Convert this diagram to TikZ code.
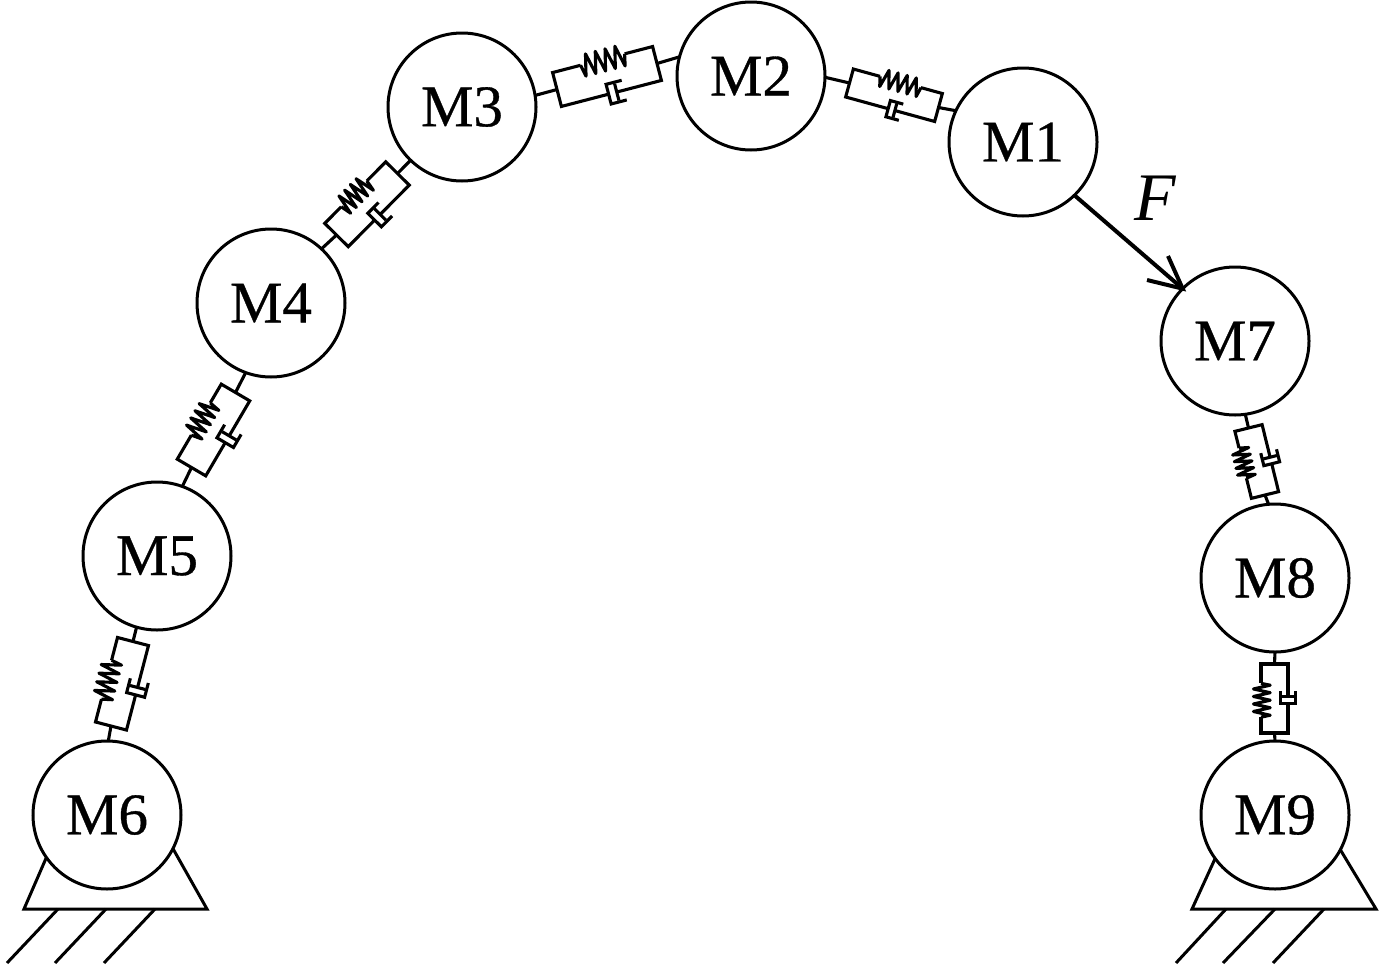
\documentclass[tikz,border=0pt]{standalone}
\usepackage{fontspec}
\setmainfont{Liberation Serif}
\newfontfamily\massfont[FakeBold=0.6]{Liberation Serif}
\tikzset{
  mass/.style={circle,draw=black,line width=3pt,minimum size=148pt,inner sep=0pt,outer sep=0pt,font=\massfont\fontsize{59}{61}\selectfont},
  lnk/.style={line width=3.1pt,line cap=butt,line join=miter},
  gnd/.style={line width=3pt,line join=miter},
  force/.style={line width=4pt},
}
% name, x1,y1 (lower end), x2,y2 (upper end), width, spring start, spring end, damper position
\newcommand{\kvunit}[9]{%
  \pgfmathsetmacro\kvL{veclen(#4-#2,#5-#3)}%
  \pgfmathsetmacro\kvux{(#4-#2)/\kvL}%
  \pgfmathsetmacro\kvuy{-(#5-#3)/\kvL}%
  \pgfmathsetmacro\kvvx{-\kvuy}%
  \pgfmathsetmacro\kvvy{\kvux}%
  \pgfmathsetmacro\kvW{#6/2}%
  \pgfmathsetmacro\kvS{#7*\kvL}%
  \pgfmathsetmacro\kvD{(#8-#7)*\kvL/9}%
  \pgfmathsetmacro\kvE{#8*\kvL}%
  \pgfmathsetmacro\kvC{#9*\kvL}%
  \pgfmathsetmacro\kvHi{\kvW*(1-0.06+0.62)}%
  \pgfmathsetmacro\kvLo{\kvW*(1-0.06-0.62)}%
  \pgfmathsetmacro\kvH{#6*0.29}%
  \pgfmathsetmacro\kvA{#6*0.46}%
  \pgfmathsetmacro\kvB{#6*0.24}%
  \pgfmathsetmacro\kvC{\kvC-\kvA/2}%
  \begin{scope}[shift={(#2,#3)},x={(\kvux pt,\kvuy pt)},y={(\kvvx pt,\kvvy pt)}]
    \coordinate (#1-a) at (0,0);
    \coordinate (#1-b) at (\kvL,0);
    \draw[lnk] (\kvS,\kvW) -- (0,\kvW) -- (0,-\kvW) -- (\kvC,-\kvW);
    \draw[lnk] (\kvC+\kvB,-\kvW) -- (\kvL,-\kvW) -- (\kvL,\kvW) -- (\kvE,\kvW);
    \draw[lnk,line join=round] (\kvS,\kvW)
      -- ++(0.5*\kvD,\kvLo-\kvW) -- ++(\kvD,\kvHi-\kvLo) -- ++(\kvD,\kvLo-\kvHi)
      -- ++(\kvD,\kvHi-\kvLo) -- ++(\kvD,\kvLo-\kvHi) -- ++(\kvD,\kvHi-\kvLo)
      -- ++(\kvD,\kvLo-\kvHi) -- ++(\kvD,\kvHi-\kvLo) -- ++(\kvD,\kvLo-\kvHi)
      -- (\kvE,\kvW);
    \draw[lnk] (\kvC+\kvA,-\kvW+\kvH) -- (\kvC,-\kvW+\kvH) -- (\kvC,-\kvW-\kvH) -- (\kvC+\kvA,-\kvW-\kvH);
    \draw[lnk] (\kvC+\kvB,-\kvW+\kvH*0.85) -- (\kvC+\kvB,-\kvW-\kvH*0.85);
  \end{scope}%
}
\begin{document}
\begin{tikzpicture}[x=1pt,y=-1pt]
\useasboundingbox (0,0) rectangle (1384,964);
\node[mass] (M1) at (1023,142) {M1};
\node[mass] (M2) at (751,76) {M2};
\node[mass] (M3) at (462,107) {M3};
\node[mass] (M4) at (271,303) {M4};
\node[mass] (M5) at (157,556) {M5};
\node[mass] (M6) at (107,815) {M6};
\node[mass] (M7) at (1235,341) {M7};
\node[mass] (M8) at (1275,578) {M8};
\node[mass] (M9) at (1275,815) {M9};

\kvunit{uab}{849.5}{83}{938.5}{107.5}{29}{0.30}{0.76}{0.55}
\kvunit{ubc}{557}{89.5}{657}{63.5}{35}{0.28}{0.72}{0.55}
\kvunit{ucd}{336.5}{235}{397.5}{173.5}{33}{0.27}{0.69}{0.52}
\kvunit{ude}{191.5}{467.5}{235.5}{392.5}{33}{0.32}{0.75}{0.53}
\kvunit{uef}{111}{726}{133}{641.5}{32}{0.27}{0.73}{0.50}
\kvunit{ugh}{1265}{495}{1248.5}{428}{28}{0.30}{0.75}{0.51}
\kvunit{uhi}{1274.5}{733}{1274.5}{664}{27}{0.23}{0.72}{0.52}

\draw[lnk] (M2.-1) -- (uab-a);
\draw[lnk] (uab-b) -- (M1.155.2);
\draw[lnk] (M3.9.3) -- (ubc-a);
\draw[lnk] (ubc-b) -- (M2.165.8);
\draw[lnk] (M4.47) -- (ucd-a);
\draw[lnk] (ucd-b) -- (M3.226.7);
\draw[lnk] (M5.70.6) -- (ude-a);
\draw[lnk] (ude-b) -- (M4.250.6);
\draw[lnk] (M6.89) -- (uef-a);
\draw[lnk] (uef-b) -- (M5.254.5);
\draw[lnk] (M8.95.5) -- (ugh-a);
\draw[lnk] (ugh-b) -- (M7.-82.5);
\draw[lnk] (M9.90) -- (uhi-a);
\draw[lnk] (uhi-b) -- (M8.-90);

% supports
\coordinate (sl) at (24,909);
\coordinate (sr) at (207,909);
\draw[gnd] (M6.215.8) -- (sl) -- (sr) -- (M6.-27.6);
\coordinate (tl) at (1192,909);
\coordinate (tr) at (1376,909);
\draw[gnd] (M9.216.4) -- (tl) -- (tr) -- (M9.-28.9);
\foreach \xa/\xb in {58/7,106/55,155/104,1226/1176,1275/1223,1324/1273}
  \draw[gnd] (\xa,909) -- (\xb,963);

% force
\coordinate (fa) at (1168,256);
\coordinate (fb) at (1147,280);
\draw[force] (M1.-46.6) -- (M7.135);
\draw[force,line join=miter] (fa) -- (M7.135) -- (fb);
\node[font=\fontsize{68}{70}\selectfont\itshape,inner sep=0pt] (F) at (1155,198.5) {F};
\end{tikzpicture}
\end{document}
